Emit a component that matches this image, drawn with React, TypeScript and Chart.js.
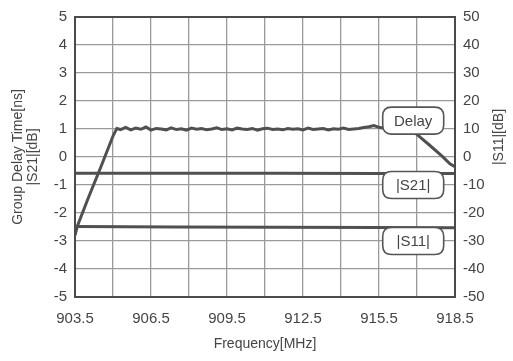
import React, { useEffect, useRef } from "react";
import { Chart, registerables } from "chart.js";

Chart.register(...registerables);

// Frequency points (MHz) and group delay (ns)
const delayFreq = [
  903.5, 903.6, 904.0, 904.5, 905.0, 905.15,
  905.3, 905.5, 905.7, 905.9, 906.1, 906.3, 906.5, 906.7, 906.9, 907.1,
  907.3, 907.5, 907.7, 907.9, 908.1, 908.3, 908.5, 908.7, 908.9, 909.1,
  909.3, 909.5, 909.7, 909.9, 910.1, 910.3, 910.5, 910.7, 910.9, 911.1,
  911.3, 911.5, 911.7, 911.9, 912.1, 912.3, 912.5, 912.7, 912.9, 913.1,
  913.3, 913.5, 913.7, 913.9, 914.1, 914.3, 914.5, 914.7, 914.9, 915.1,
  915.3, 915.5, 915.7, 915.9, 916.1, 916.3, 916.5, 916.75,
  917.1, 917.5, 918.0, 918.3, 918.5,
];
const delayValues = [
  -2.8, -2.45, -1.52, -0.4, 0.75, 1.02,
  0.98, 1.06, 0.97, 1.03, 0.99, 1.07, 0.96, 1.02, 1.0, 0.97,
  1.04, 0.98, 1.01, 0.96, 1.03, 0.99, 1.02, 0.97, 1.0, 1.04,
  0.98, 1.01, 0.97, 1.03, 1.0, 0.98, 1.02, 0.96, 1.01, 1.03,
  0.98, 1.0, 0.97, 1.02, 0.99, 1.01, 0.97, 1.03, 0.98, 1.0,
  1.02, 0.97, 1.01, 0.99, 1.03, 0.98, 1.0, 1.02, 1.05, 1.08,
  1.12, 1.06, 1.03, 1.0, 1.01, 0.99, 1.0, 1.0,
  0.73, 0.42, 0.02, -0.24, -0.35,
];

// |S21| [dB] (plotted on left scale) and |S11| [dB] on right axis
const s21Freq = [903.5, 907.5, 911.5, 915.5, 918.5];
const s21Values = [-0.58, -0.58, -0.58, -0.59, -0.59];
const s11Freq = [903.5, 907.5, 911.5, 915.5, 918.5];
const s11Values = [-24.8, -25.0, -25.1, -25.2, -25.3];

// X tick labels shown every 3 MHz, grid every 1.5 MHz
const xTickLabels = ["903.5", "906.5", "909.5", "912.5", "915.5", "918.5"];

// Callout labels: text, anchor frequency, anchor value on left scale
const calloutText = ["Delay", "|S21|", "|S11|"];
const calloutFreq = [916.85, 916.85, 916.85];
const calloutValue = [1.3, -1.0, -3.0];

const FONT = "'Liberation Sans', Arial, sans-serif";
const INK = "#454545";

const calloutPlugin = {
  id: "callouts",
  afterDatasetsDraw(chart: any) {
    const ctx = chart.ctx;
    const xs = chart.scales.x;
    const ys = chart.scales.y;
    ctx.save();
    ctx.font = `15px ${FONT}`;
    for (let i = 0; i < calloutText.length; i++) {
      const cx = xs.getPixelForValue(calloutFreq[i]);
      const cy = ys.getPixelForValue(calloutValue[i]);
      const w = 61;
      const h = 27;
      const x = cx - w / 2;
      const y = cy - h / 2;
      const r = 9;
      ctx.beginPath();
      ctx.moveTo(x + r, y);
      ctx.lineTo(x + w - r, y);
      ctx.quadraticCurveTo(x + w, y, x + w, y + r);
      ctx.lineTo(x + w, y + h - r);
      ctx.quadraticCurveTo(x + w, y + h, x + w - r, y + h);
      ctx.lineTo(x + r, y + h);
      ctx.quadraticCurveTo(x, y + h, x, y + h - r);
      ctx.lineTo(x, y + r);
      ctx.quadraticCurveTo(x, y, x + r, y);
      ctx.closePath();
      ctx.fillStyle = "#ffffff";
      ctx.fill();
      ctx.lineWidth = 1.6;
      ctx.strokeStyle = "#555555";
      ctx.stroke();
      ctx.fillStyle = INK;
      ctx.textAlign = "center";
      ctx.textBaseline = "middle";
      ctx.fillText(calloutText[i], cx, cy + 1);
    }
    ctx.restore();
  },
  afterDraw(chart: any) {
    const ctx = chart.ctx;
    const a = chart.chartArea;
    ctx.save();
    // plot border
    ctx.strokeStyle = "#4a4a4a";
    ctx.lineWidth = 2;
    ctx.strokeRect(a.left, a.top, a.right - a.left, a.bottom - a.top);
    // right axis title, reading bottom-to-top
    ctx.translate(499, 137);
    ctx.rotate(-Math.PI / 2);
    ctx.font = `14px ${FONT}`;
    ctx.fillStyle = INK;
    ctx.textAlign = "center";
    ctx.textBaseline = "middle";
    ctx.fillText("|S11|[dB]", 0, 0);
    ctx.restore();
  },
};

export default function App() {
  const ref = useRef<HTMLCanvasElement | null>(null);
  useEffect(() => {
    document.body.style.margin = "0";
    const canvas = ref.current!;
    const lineStyle = {
      borderColor: "#505050",
      borderWidth: 3,
      pointRadius: 0,
      tension: 0,
      fill: false,
    };
    const chart = new Chart(canvas, {
      type: "line",
      data: {
        datasets: [
          {
            label: "Delay",
            data: delayFreq.map((f, i) => ({ x: f, y: delayValues[i] })),
            yAxisID: "y",
            ...lineStyle,
          },
          {
            label: "|S21|",
            data: s21Freq.map((f, i) => ({ x: f, y: s21Values[i] })),
            yAxisID: "y",
            ...lineStyle,
          },
          {
            label: "|S11|",
            data: s11Freq.map((f, i) => ({ x: f, y: s11Values[i] })),
            yAxisID: "y1",
            ...lineStyle,
          },
        ],
      },
      options: {
        animation: false,
        responsive: false,
        maintainAspectRatio: false,
        layout: { padding: { top: 2, right: 0, left: 0, bottom: 8 } },
        plugins: { legend: { display: false }, tooltip: { enabled: false } },
        scales: {
          x: {
            type: "linear",
            min: 903.5,
            max: 918.5,
            afterBuildTicks: (s: any) => {
              const t = [];
              for (let k = 0; k <= 10; k++) t.push({ value: 903.5 + k * 1.5 });
              s.ticks = t;
            },
            ticks: {
              autoSkip: false,
              maxRotation: 0,
              padding: 13,
              color: INK,
              font: { family: FONT, size: 15 },
              callback: (v: any, i: number) =>
                i % 2 === 0 ? xTickLabels[i / 2] : "",
            },
            grid: { color: "#9a9a9a", lineWidth: 1.3, drawTicks: false },
            border: { display: false },
            title: {
              display: true,
              text: "Frequency[MHz]",
              color: INK,
              font: { family: FONT, size: 14 },
              padding: { top: 2, bottom: 0 },
            },
            afterFit: (s: any) => {
              s.height = 56;
            },
          },
          y: {
            position: "left",
            min: -5,
            max: 5,
            ticks: {
              stepSize: 1,
              padding: 8,
              color: INK,
              font: { family: FONT, size: 15 },
            },
            grid: { color: "#9a9a9a", lineWidth: 1.3, drawTicks: false },
            border: { display: false },
            title: {
              display: true,
              text: ["Group Delay Time[ns]", "|S21|[dB]"],
              color: INK,
              font: { family: FONT, size: 14, lineHeight: 1.05 },
              padding: { top: 11, bottom: 4 },
            },
            afterFit: (s: any) => {
              s.width = 75;
            },
          },
          y1: {
            position: "right",
            min: -50,
            max: 50,
            ticks: {
              stepSize: 10,
              padding: 8,
              color: INK,
              font: { family: FONT, size: 15 },
            },
            grid: { display: false, drawTicks: false },
            border: { display: false },
            afterFit: (s: any) => {
              s.width = 58;
            },
          },
        },
      },
      plugins: [calloutPlugin],
    } as any);
    return () => chart.destroy();
  }, []);
  return (
    <div style={{ width: 513, height: 361, background: "#ffffff" }}>
      <canvas ref={ref} width={513} height={361} style={{ display: "block" }} />
    </div>
  );
}
